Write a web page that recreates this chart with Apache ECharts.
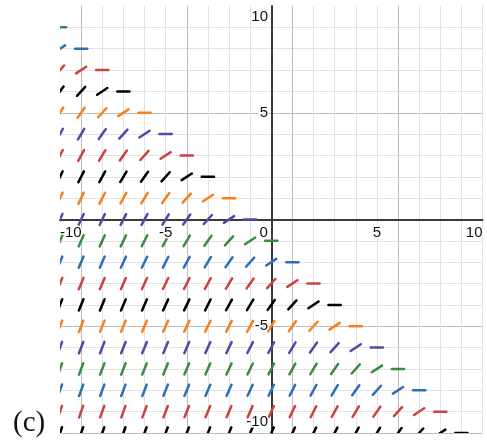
<!DOCTYPE html>
<html>
<head>
<meta charset="utf-8">
<script src="https://cdn.jsdelivr.net/npm/echarts@6/dist/echarts.min.js"></script>
<style>
html,body{margin:0;padding:0;background:#fff;}
#chart{width:487px;height:445px;}
</style>
</head>
<body>
<div id="chart"></div>
<script>
// Grid points of the slope field (integer lattice)
var xValues = [-10,-9,-8,-7,-6,-5,-4,-3,-2,-1,0,1,2,3,4,5,6,7,8,9,10];
var yRows   = [9,8,7,6,5,4,3,2,1,0,-1,-2,-3,-4,-5,-6,-7,-8,-9,-10];
// Slope, indexed by d = -(x + y + 1) (segments drawn only where d >= 0)
var slopeByD = [0, 0.65, 1.1, 1.4, 1.65, 1.8, 1.95, 2.05, 2.15, 2.25, 2.3, 2.4, 2.45, 2.55, 2.6, 2.7, 2.75, 2.8, 2.85, 2.9];
// Tick labels
var xTickLabels = [-10, -5, 0, 5, 10];
var yTickLabels = [-10, -5, 5, 10];
var panelLabel = '(c)';

// Styles (kept separate from the data)
var rowColors = ['#388c46','#2d70b3','#c74440','#000000','#fa7e19','#6042a6','#c74440','#000000','#fa7e19','#6042a6',
                 '#388c46','#2d70b3','#c74440','#000000','#fa7e19','#6042a6','#388c46','#2d70b3','#c74440','#000000'];
var minorGrid = '#e3e3e3', majorGrid = '#bdbdbd';
var gridColors = [majorGrid, minorGrid, minorGrid, minorGrid, minorGrid];
var GRID = { left: 60, top: 6, width: 428, height: 427 };

function renderSeg(params, api) {
  var x = api.value(0), y = api.value(1), s = api.value(2);
  var c = api.coord([x, y]);
  var c2 = api.coord([x + 1, y + s]);
  var dx = c2[0] - c[0], dy = c2[1] - c[1];
  var len = Math.sqrt(dx * dx + dy * dy);
  var h = 6.1;
  return {
    type: 'line',
    shape: { x1: c[0] - dx / len * h, y1: c[1] - dy / len * h, x2: c[0] + dx / len * h, y2: c[1] + dy / len * h },
    style: { stroke: api.visual('color'), lineWidth: 2.5, lineCap: 'round' }
  };
}

var series = yRows.map(function (y, i) {
  var data = [];
  xValues.forEach(function (x) {
    var d = -(x + y + 1);
    if (d >= 0 && d < slopeByD.length) data.push([x, y, slopeByD[d]]);
  });
  return {
    type: 'custom', renderItem: renderSeg, data: data, clip: true,
    xAxisIndex: 0, yAxisIndex: 0,
    itemStyle: { color: rowColors[i] }, encode: { x: 0, y: 1 }, silent: true
  };
});

var labelText = {
  fontFamily: 'Liberation Sans', fontSize: 15, color: '#111',
  textBorderColor: '#fff', textBorderWidth: 3
};
function rich(pad) { return Object.assign({ padding: pad }, labelText); }

var chart = echarts.init(document.getElementById('chart'), null, { renderer: 'canvas' });
chart.setOption({
  animation: false,
  backgroundColor: '#fff',
  grid: GRID,
  xAxis: [{
    type: 'value', min: -10, max: 10, interval: 1,
    axisLine: { onZero: true, lineStyle: { color: '#3a3a3a', width: 2 } },
    axisTick: { show: false },
    splitLine: { show: true, showMinLine: false, lineStyle: { color: gridColors, width: 1 } },
    axisLabel: { show: false }
  }, {
    type: 'value', min: -10, max: 10, interval: 1, position: 'bottom',
    offset: -GRID.height / 2, z: 10,
    axisLine: { show: false }, axisTick: { show: false }, splitLine: { show: false },
    axisLabel: Object.assign({
      interval: 0, margin: 6, showMinLabel: true, showMaxLabel: true,
      alignMinLabel: 'left', alignMaxLabel: 'right',
      formatter: function (v) {
        if (xTickLabels.indexOf(v) < 0) return '';
        if (v === 0) return '{z|0}';
        return String(v);
      },
      rich: { z: rich([0, 15, 0, 0]) }
    }, labelText)
  }],
  yAxis: [{
    type: 'value', min: -10, max: 10, interval: 1,
    axisLine: { onZero: true, lineStyle: { color: '#3a3a3a', width: 2 } },
    axisTick: { show: false },
    splitLine: { show: true, showMaxLine: false, lineStyle: { color: gridColors, width: 1 } },
    axisLabel: { show: false }
  }, {
    type: 'value', min: -10, max: 10, interval: 1, position: 'left',
    offset: -GRID.width / 2, z: 10,
    axisLine: { show: false }, axisTick: { show: false }, splitLine: { show: false },
    axisLabel: Object.assign({
      interval: 0, margin: 6, showMinLabel: true, showMaxLabel: true,
      verticalAlignMinLabel: 'bottom', verticalAlignMaxLabel: 'top',
      formatter: function (v) {
        if (yTickLabels.indexOf(v) < 0) return '';
        if (v === 10) return '{t|10}';
        if (v === -10) return '{b|-10}';
        return String(v);
      },
      rich: { t: rich([3, 0, 0, 0]), b: rich([0, 0, 4, 0]) }
    }, labelText)
  }],
  graphic: [{
    type: 'text', left: 13, top: 409,
    style: { text: panelLabel, font: '29px "Liberation Serif"', fill: '#111' }
  }],
  series: series
});
</script>
</body>
</html>
